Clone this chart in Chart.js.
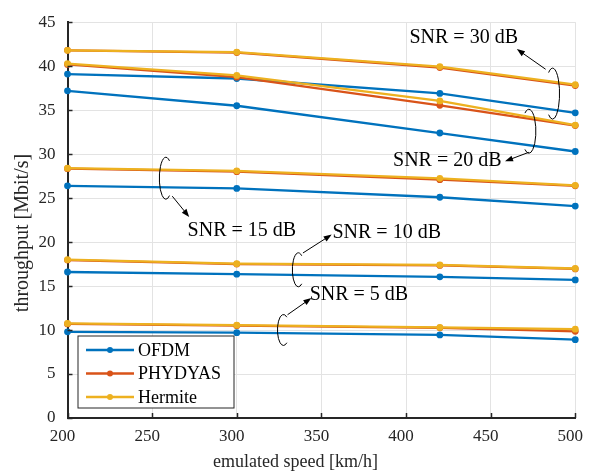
<!DOCTYPE html>
<html>
<head>
<meta charset="utf-8">
<script src="https://cdn.jsdelivr.net/npm/chart.js@4"></script>
<style>
  body { margin: 0; background: #fff; }
  canvas { display: block; }
</style>
</head>
<body>
<canvas id="chart" width="596" height="475"></canvas>
<script>
// emulated speeds [km/h]
const speeds = [200, 300, 420, 500];
const xTicks = [200, 250, 300, 350, 400, 450, 500];
const yTicks = [0, 5, 10, 15, 20, 25, 30, 35, 40, 45];

// throughput [Mbit/s] per SNR
const ofdm30 = [39.1, 38.6, 36.9, 34.7];
const ofdm20 = [37.2, 35.5, 32.4, 30.3];
const ofdm15 = [26.4, 26.1, 25.1, 24.1];
const ofdm10 = [16.6, 16.35, 16.05, 15.7];
const ofdm5 = [9.8, 9.7, 9.45, 8.9];

const phydyas30 = [41.8, 41.55, 39.85, 37.8];
const phydyas20 = [40.2, 38.75, 35.55, 33.25];
const phydyas15 = [28.35, 28.0, 27.1, 26.4];
const phydyas10 = [17.95, 17.5, 17.35, 16.95];
const phydyas5 = [10.7, 10.5, 10.25, 9.85];

const hermite30 = [41.8, 41.6, 39.95, 37.9];
const hermite20 = [40.3, 38.95, 36.05, 33.3];
const hermite15 = [28.4, 28.1, 27.25, 26.45];
const hermite10 = [18.0, 17.55, 17.4, 17.0];
const hermite5 = [10.75, 10.55, 10.3, 10.1];

const seriesNames = ['OFDM', 'PHYDYAS', 'Hermite'];
const seriesColors = ['#0072BD', '#D95319', '#EDB120'];

// annotations (data units): label text, label centre, ellipse centre, arrow start, arrow tip
const snrLabels = ['SNR = 30 dB', 'SNR = 20 dB', 'SNR = 15 dB', 'SNR = 10 dB', 'SNR = 5 dB'];
const labelPos = [[434.1, 43.25], [424.4, 29.21], [303.0, 21.3], [388.6, 21.11], [372.2, 14.02]];
const ellipsePos = [[486.6, 36.88], [472.6, 32.6], [258.1, 27.26], [336.4, 16.85], [327.6, 10.01]];
const arrowFrom = [[482.5, 39.65], [472.6, 30.21], [261.9, 25.22], [339.1, 18.76], [330.0, 11.74]];
const arrowTo = [[465.5, 41.94], [458.5, 29.19], [271.9, 22.86], [356.1, 20.85], [344.1, 13.64]];
const ellipseRadius = [[7, 25.5], [7, 22], [6.5, 21], [6, 17], [6, 15.5]];
const ellipseOpenLeft = [true, true, false, false, false];

const xTitle = 'emulated speed [km/h]';
const yTitle = 'throughput [Mbit/s]';

const serif = "'Liberation Serif', 'Times New Roman', serif";
const ink = '#262626';

function points(vals) {
    return speeds.map((x, i) => ({ x: x, y: vals[i] }));
}

function makeSet(vals, k) {
    return {
        label: seriesNames[k],
        data: points(vals),
        borderColor: seriesColors[k],
        backgroundColor: seriesColors[k],
        borderWidth: 2.3,
        pointRadius: 3.4,
        pointBorderWidth: 0,
        tension: 0,
        order: 2 - k, // Hermite drawn on top
        clip: 10
    };
}

const datasets = [
    makeSet(ofdm30, 0), makeSet(ofdm20, 0), makeSet(ofdm15, 0), makeSet(ofdm10, 0), makeSet(ofdm5, 0),
    makeSet(phydyas30, 1), makeSet(phydyas20, 1), makeSet(phydyas15, 1), makeSet(phydyas10, 1), makeSet(phydyas5, 1),
    makeSet(hermite30, 2), makeSet(hermite20, 2), makeSet(hermite15, 2), makeSet(hermite10, 2), makeSet(hermite5, 2)
];

function arrow(ctx, x1, y1, x2, y2) {
    const a = Math.atan2(y2 - y1, x2 - x1);
    const len = 8, w = 3;
    ctx.beginPath();
    ctx.moveTo(x1, y1);
    ctx.lineTo(x2 - Math.cos(a) * len * 0.8, y2 - Math.sin(a) * len * 0.8);
    ctx.stroke();
    ctx.beginPath();
    ctx.moveTo(x2, y2);
    ctx.lineTo(x2 - Math.cos(a) * len + Math.sin(a) * w, y2 - Math.sin(a) * len - Math.cos(a) * w);
    ctx.lineTo(x2 - Math.cos(a) * len - Math.sin(a) * w, y2 - Math.sin(a) * len + Math.cos(a) * w);
    ctx.closePath();
    ctx.fill();
}

const extras = {
    id: 'extras',
    afterDatasetsDraw(chart) {
        const ctx = chart.ctx;
        const xs = chart.scales.x, ys = chart.scales.y;
        const area = chart.chartArea;
        ctx.save();

        // inward tick marks
        ctx.strokeStyle = ink;
        ctx.lineWidth = 1.5;
        xTicks.forEach(t => {
            const px = Math.round(xs.getPixelForValue(t)) + 0.5;
            ctx.beginPath();
            ctx.moveTo(px, area.bottom);
            ctx.lineTo(px, area.bottom - 5);
            ctx.stroke();
        });
        yTicks.forEach(t => {
            const py = Math.round(ys.getPixelForValue(t)) + 0.5;
            ctx.beginPath();
            ctx.moveTo(area.left, py);
            ctx.lineTo(area.left + 5, py);
            ctx.stroke();
        });

        // SNR annotations
        ctx.strokeStyle = '#000';
        ctx.fillStyle = '#000';
        ctx.lineWidth = 1;
        for (let i = 0; i < snrLabels.length; i++) {
            const cx = xs.getPixelForValue(ellipsePos[i][0]);
            const cy = ys.getPixelForValue(ellipsePos[i][1]);
            const rx = ellipseRadius[i][0], ry = ellipseRadius[i][1];
            ctx.beginPath();
            if (ellipseOpenLeft[i]) {
                ctx.ellipse(cx, cy, rx, ry, 0, -Math.PI / 2 - 0.6, Math.PI / 2 + 0.6, false);
            } else {
                ctx.ellipse(cx, cy, rx, ry, 0, -Math.PI / 2 + 0.6, Math.PI / 2 - 0.6, true);
            }
            ctx.stroke();
            arrow(ctx,
                xs.getPixelForValue(arrowFrom[i][0]), ys.getPixelForValue(arrowFrom[i][1]),
                xs.getPixelForValue(arrowTo[i][0]), ys.getPixelForValue(arrowTo[i][1]));
            ctx.font = '20px ' + serif;
            ctx.textAlign = 'center';
            ctx.textBaseline = 'middle';
            ctx.fillText(snrLabels[i], xs.getPixelForValue(labelPos[i][0]), ys.getPixelForValue(labelPos[i][1]));
        }

        // legend box
        const bx = area.left + 10.5, by = area.bottom - 82, bw = 156, bh = 72;
        ctx.fillStyle = '#fff';
        ctx.fillRect(bx, by, bw, bh);
        ctx.strokeStyle = ink;
        ctx.lineWidth = 1;
        ctx.strokeRect(bx, by, bw, bh);
        ctx.font = '18px ' + serif;
        ctx.textAlign = 'left';
        ctx.textBaseline = 'middle';
        seriesNames.forEach((name, k) => {
            const ly = by + 14 + k * 23.5;
            ctx.strokeStyle = seriesColors[k];
            ctx.lineWidth = 2.3;
            ctx.beginPath();
            ctx.moveTo(bx + 8, ly);
            ctx.lineTo(bx + 56, ly);
            ctx.stroke();
            ctx.fillStyle = seriesColors[k];
            ctx.beginPath();
            ctx.arc(bx + 32, ly, 3, 0, Math.PI * 2);
            ctx.fill();
            ctx.fillStyle = '#000';
            ctx.fillText(name, bx + 60, ly + 1);
        });

        // axis titles
        ctx.fillStyle = ink;
        ctx.textBaseline = 'alphabetic';
        ctx.font = '18px ' + serif;
        ctx.textAlign = 'left';
        ctx.fillText(xTitle, 213, 467);
        ctx.translate(28, 233);
        ctx.rotate(-Math.PI / 2);
        ctx.font = '20px ' + serif;
        ctx.textAlign = 'center';
        ctx.fillText(yTitle, 0, 0);
        ctx.restore();
    }
};

new Chart(document.getElementById('chart'), {
    type: 'line',
    data: { datasets: datasets },
    options: {
        responsive: false,
        animation: false,
        devicePixelRatio: 1,
        layout: { padding: { top: 13.5, right: 17, left: 0, bottom: 0 } },
        plugins: {
            legend: { display: false },
            tooltip: { enabled: false }
        },
        scales: {
            x: {
                type: 'linear',
                min: 200,
                max: 500,
                afterFit: scale => { scale.height = 57; },
                ticks: {
                    stepSize: 50,
                    padding: 8,
                    labelOffset: -5,
                    color: ink,
                    font: { family: serif, size: 17 }
                },
                grid: { color: '#e3e3e3', lineWidth: 1, drawTicks: false },
                border: { color: ink, width: 2 }
            },
            y: {
                min: 0,
                max: 45,
                afterFit: scale => { scale.width = 67.5; },
                ticks: {
                    stepSize: 5,
                    padding: 12,
                    color: ink,
                    font: { family: serif, size: 17 }
                },
                grid: { color: '#e3e3e3', lineWidth: 1, drawTicks: false },
                border: { color: ink, width: 2 }
            }
        }
    },
    plugins: [extras]
});
</script>
</body>
</html>
